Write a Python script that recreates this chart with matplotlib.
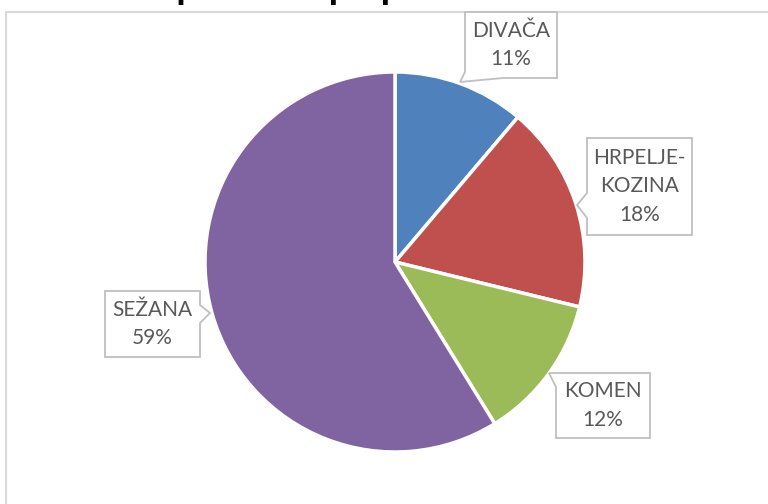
import matplotlib.pyplot as plt
from matplotlib.patches import Polygon, Rectangle

# data
obcine = ["DIVAČA", "HRPELJE-\nKOZINA", "KOMEN", "SEŽANA"]
deleži = [11.2, 17.6, 12.4, 58.8]
barve = ["#4F81BD", "#C0504D", "#9BBB59", "#8064A2"]
naslov = "Število zaposlenih po posameznih občinah"

W, H = 768, 504
siva = "#595959"

fig = plt.figure(figsize=(W / 100, H / 100), dpi=100)
ax = fig.add_axes([0, 0, 1, 1])


def py(y):
    # pixel row (from top) -> data y
    return H - y


ax.pie(deleži, colors=barve, startangle=90, counterclock=False,
       center=(395, py(262)), radius=190, frame=True,
       wedgeprops=dict(edgecolor="white", linewidth=2.5))
ax.set_xlim(0, W)
ax.set_ylim(0, H)
ax.set_aspect("auto")
ax.axis("off")

# chart area border
ax.add_patch(Rectangle((6, py(520)), 800, 508, fill=False,
                       edgecolor="#D9D9D9", linewidth=1.5, zorder=0))

# title, mostly cut off at the top
ax.text(370, py(-2), naslov, ha="center", va="baseline", fontsize=25,
        fontweight="bold", family="Liberation Sans", color="black")

# callouts: box (x0, y0, x1, y1) and outline points incl. pointer
oblački = [
    dict(box=(465, 12, 557, 78), pts=[(465, 12), (557, 12), (557, 78), (503, 78),
                                      (460, 82), (465, 72)]),
    dict(box=(587, 138, 692, 235), pts=[(587, 138), (692, 138), (692, 235), (587, 235),
                                        (587, 218), (577, 205), (587, 193)]),
    dict(box=(556, 373, 650, 438), pts=[(563, 373), (650, 373), (650, 438), (556, 438),
                                        (556, 387), (549, 373)]),
    dict(box=(105, 291, 200, 357), pts=[(105, 291), (200, 291), (200, 305), (210, 313),
                                        (200, 323), (200, 357), (105, 357)]),
]

for ime, delež, o in zip(obcine, deleži, oblački):
    pts = [(x, py(y)) for x, y in o["pts"]]
    ax.add_patch(Polygon(pts, closed=True, facecolor="white",
                         edgecolor="#BFBFBF", linewidth=1.3, zorder=3))
    x0, y0, x1, y1 = o["box"]
    vrstice = ime.split("\n") + [f"{delež:.0f}%"]
    cx = (x0 + x1) / 2
    cy = (y0 + y1) / 2
    for i, v in enumerate(vrstice):
        y = cy + (i - (len(vrstice) - 1) / 2) * 28.5
        ax.text(cx, py(y), v, ha="center", va="center", fontsize=15,
                family="Lato", color=siva, zorder=4)

fig.savefig("out.png", dpi=100)
